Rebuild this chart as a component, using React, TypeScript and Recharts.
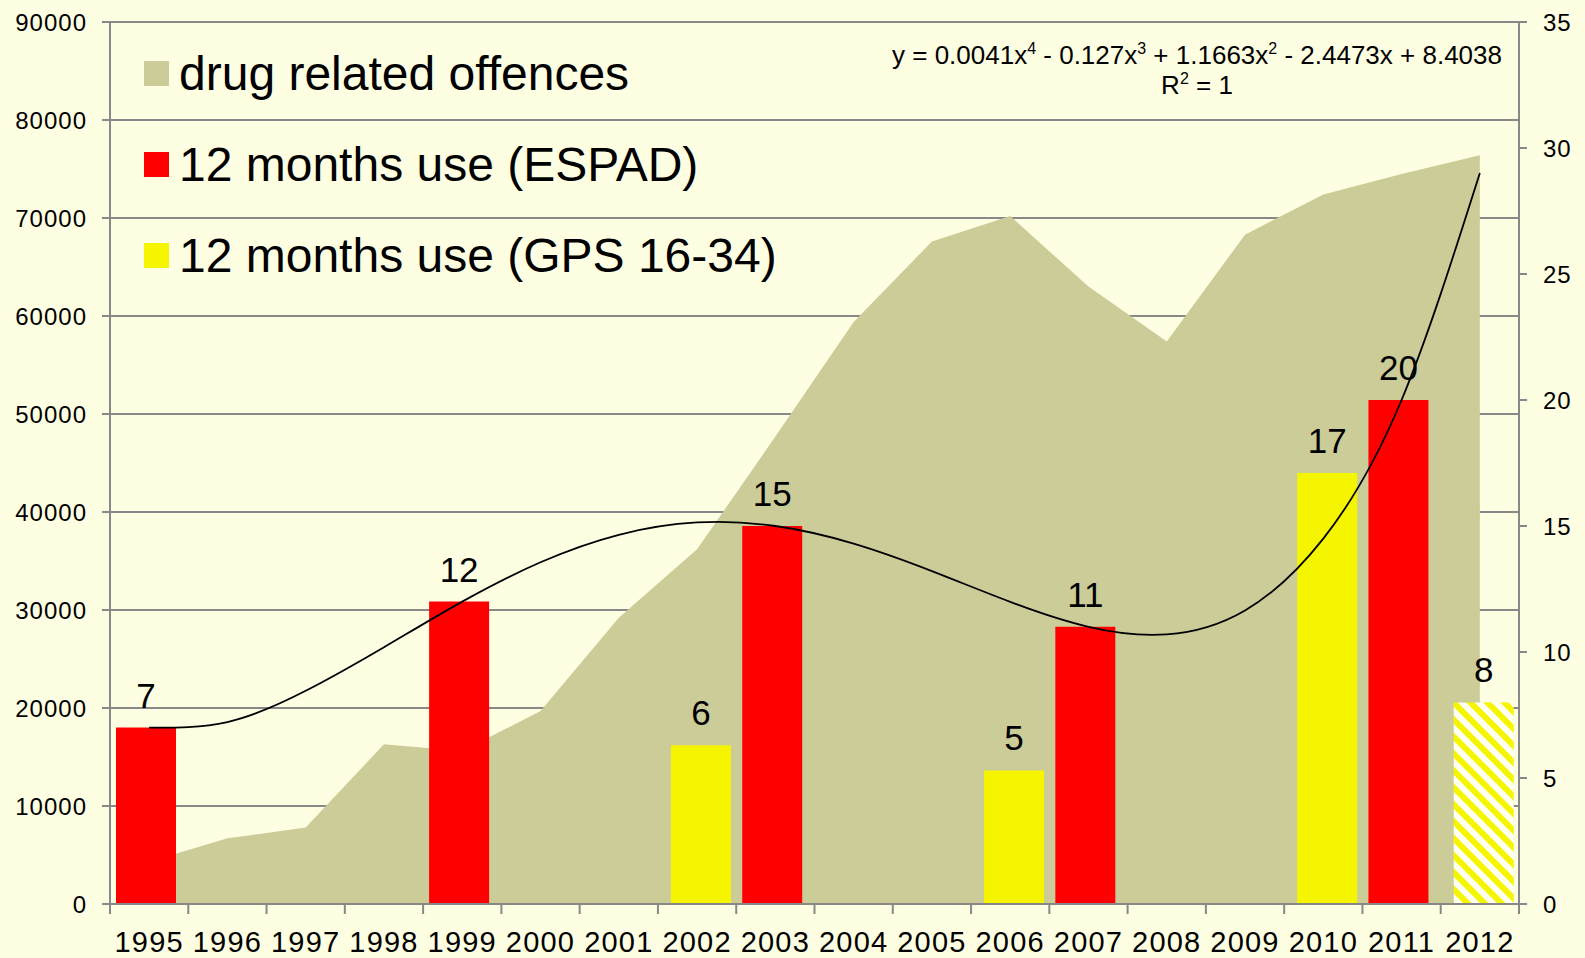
import React from 'react';
import {
  ComposedChart,
  Area,
  Bar,
  Line,
  XAxis,
  YAxis,
  CartesianGrid,
  LabelList,
  Cell,
  Legend,
} from 'recharts';

const years = ['1995', '1996', '1997', '1998', '1999', '2000', '2001', '2002', '2003', '2004', '2005', '2006', '2007', '2008', '2009', '2010', '2011', '2012'];
const offences = [4300, 6700, 7800, 16300, 15600, 19700, 29200, 36200, 47700, 59400, 67600, 70200, 63000, 57400, 68300, 72400, 74500, 76400];
const espad = [7, null, null, null, 12, null, null, null, 15, null, null, null, 11, null, null, null, 20, null];
const gps = [null, null, null, null, null, null, null, 6.3, null, null, null, 5.3, null, null, null, 17.1, null, 8];
const trend = [7, 7.22, 8.46, 10.19, 12, 13.56, 14.65, 15.14, 15, 14.3, 13.21, 11.99, 11, 10.7, 11.65, 14.5, 20, 29.01];
const leftTicks = [0, 10000, 20000, 30000, 40000, 50000, 60000, 70000, 80000, 90000];
const rightTicks = [0, 5, 10, 15, 20, 25, 30, 35];

const legendItems = [
  { label: 'drug related offences', color: '#CCCC99' },
  { label: '12 months use (ESPAD)', color: '#FF0000' },
  { label: '12 months use (GPS 16-34)', color: '#F5F500' },
];

const data = years.map((y, i) => ({
  year: y,
  offences: offences[i],
  espad: espad[i],
  gps: gps[i],
  trend: trend[i],
}));

const W = 1585;
const H = 958;
const M = { top: 22, left: 10, right: 6, bottom: 4 };
const LEFT_W = 100;
const RIGHT_W = 60;
const XH = 50;
const PLOT_L = M.left + LEFT_W;
const PLOT_R = W - M.right - RIGHT_W;
const PLOT_B = H - M.bottom - XH;
const BAND = (PLOT_R - PLOT_L) / years.length;
const FONT = '"Liberation Sans", Arial, sans-serif';
const AXIS = '#888888';

const XTick = (props: any) => {
  const { x, payload, index } = props;
  const last = index === years.length - 1;
  return (
    <g>
      <line x1={x - BAND / 2} x2={x - BAND / 2} y1={PLOT_B} y2={PLOT_B + 10} stroke={AXIS} strokeWidth={2} />
      {last && (
        <line x1={x + BAND / 2} x2={x + BAND / 2} y1={PLOT_B} y2={PLOT_B + 10} stroke={AXIS} strokeWidth={2} />
      )}
      <text x={x} y={PLOT_B + 48} textAnchor="middle" fontSize={29} fontFamily={FONT} fill="#000" letterSpacing={1.2}>
        {payload.value}
      </text>
    </g>
  );
};

const fmt = (v: any) => (v == null ? '' : String(Math.round(Number(v))));

const LegendContent = () => (
  <div style={{ fontFamily: FONT }}>
    {legendItems.map((it) => (
      <div key={it.label} style={{ display: 'flex', alignItems: 'center', height: 91 }}>
        <div style={{ width: 25, height: 25, background: it.color, marginRight: 10 }} />
        <span style={{ fontSize: 48, color: '#000', whiteSpace: 'nowrap' }}>{it.label}</span>
      </div>
    ))}
  </div>
);

const supStyle: React.CSSProperties = { fontSize: 16, lineHeight: 0, verticalAlign: 'super' };

export default function App() {
  return (
    <div style={{ position: 'fixed', left: 0, top: 0, width: W, height: H, background: '#FEFEE2' }}>
      <ComposedChart width={W} height={H} data={data} margin={M} barGap={-53} barSize={60}>
        <defs>
          <pattern id="hatch" patternUnits="userSpaceOnUse" width="12" height="12" patternTransform="rotate(-45)">
            <rect width="12" height="12" fill="#FFFFF2" />
            <rect width="6" height="12" fill="#F5F500" />
          </pattern>
        </defs>
        <CartesianGrid yAxisId="left" vertical={false} stroke={AXIS} strokeWidth={2} />
        <XAxis
          dataKey="year"
          height={XH}
          axisLine={{ stroke: AXIS, strokeWidth: 2 }}
          tickLine={false}
          tick={<XTick />}
          interval={0}
        />
        <YAxis
          yAxisId="left"
          orientation="left"
          width={LEFT_W}
          domain={[0, 90000]}
          ticks={leftTicks}
          interval={0}
          axisLine={{ stroke: AXIS, strokeWidth: 2 }}
          tickLine={{ stroke: AXIS, strokeWidth: 2 }}
          tickSize={8}
          tickMargin={15}
          tick={{ fontSize: 24, fill: '#000', fontFamily: FONT, letterSpacing: 1 }}
        />
        <YAxis
          yAxisId="right"
          orientation="right"
          width={RIGHT_W}
          domain={[0, 35]}
          ticks={rightTicks}
          interval={0}
          axisLine={{ stroke: AXIS, strokeWidth: 2 }}
          tickLine={{ stroke: AXIS, strokeWidth: 2 }}
          tickSize={8}
          tickMargin={16}
          tick={{ fontSize: 24, fill: '#000', fontFamily: FONT, letterSpacing: 1 }}
        />
        <Area
          yAxisId="left"
          dataKey="offences"
          type="linear"
          fill="#CCCC99"
          fillOpacity={1}
          stroke="none"
          isAnimationActive={false}
          dot={false}
          activeDot={false}
        />
        <Bar yAxisId="right" dataKey="espad" fill="#FF0000" isAnimationActive={false}>
          <LabelList dataKey="espad" position="top" offset={20} formatter={fmt} fontSize={35} fill="#000" fontFamily={FONT} />
        </Bar>
        <Bar yAxisId="right" dataKey="gps" fill="#F5F500" isAnimationActive={false}>
          {data.map((d, i) => (
            <Cell key={i} fill={i === years.length - 1 ? 'url(#hatch)' : '#F5F500'} />
          ))}
          <LabelList dataKey="gps" position="top" offset={20} formatter={fmt} fontSize={35} fill="#000" fontFamily={FONT} />
        </Bar>
        <Line
          yAxisId="right"
          dataKey="trend"
          type="natural"
          stroke="#000"
          strokeWidth={1.8}
          dot={false}
          activeDot={false}
          isAnimationActive={false}
        />
        <Legend
          layout="vertical"
          align="center"
          verticalAlign="middle"
          content={<LegendContent />}
          wrapperStyle={{ left: 144, top: 28, width: 'auto' }}
        />
      </ComposedChart>
      <div
        style={{
          position: 'absolute',
          left: 1197,
          top: 40,
          transform: 'translateX(-50%)',
          textAlign: 'center',
          fontFamily: FONT,
          fontSize: 26,
          lineHeight: '30px',
          color: '#000',
          whiteSpace: 'nowrap',
        }}
      >
        <div>
          y = 0.0041x<sup style={supStyle}>4</sup> - 0.127x<sup style={supStyle}>3</sup> + 1.1663x
          <sup style={supStyle}>2</sup> - 2.4473x + 8.4038
        </div>
        <div>
          R<sup style={supStyle}>2</sup> = 1
        </div>
      </div>
    </div>
  );
}
